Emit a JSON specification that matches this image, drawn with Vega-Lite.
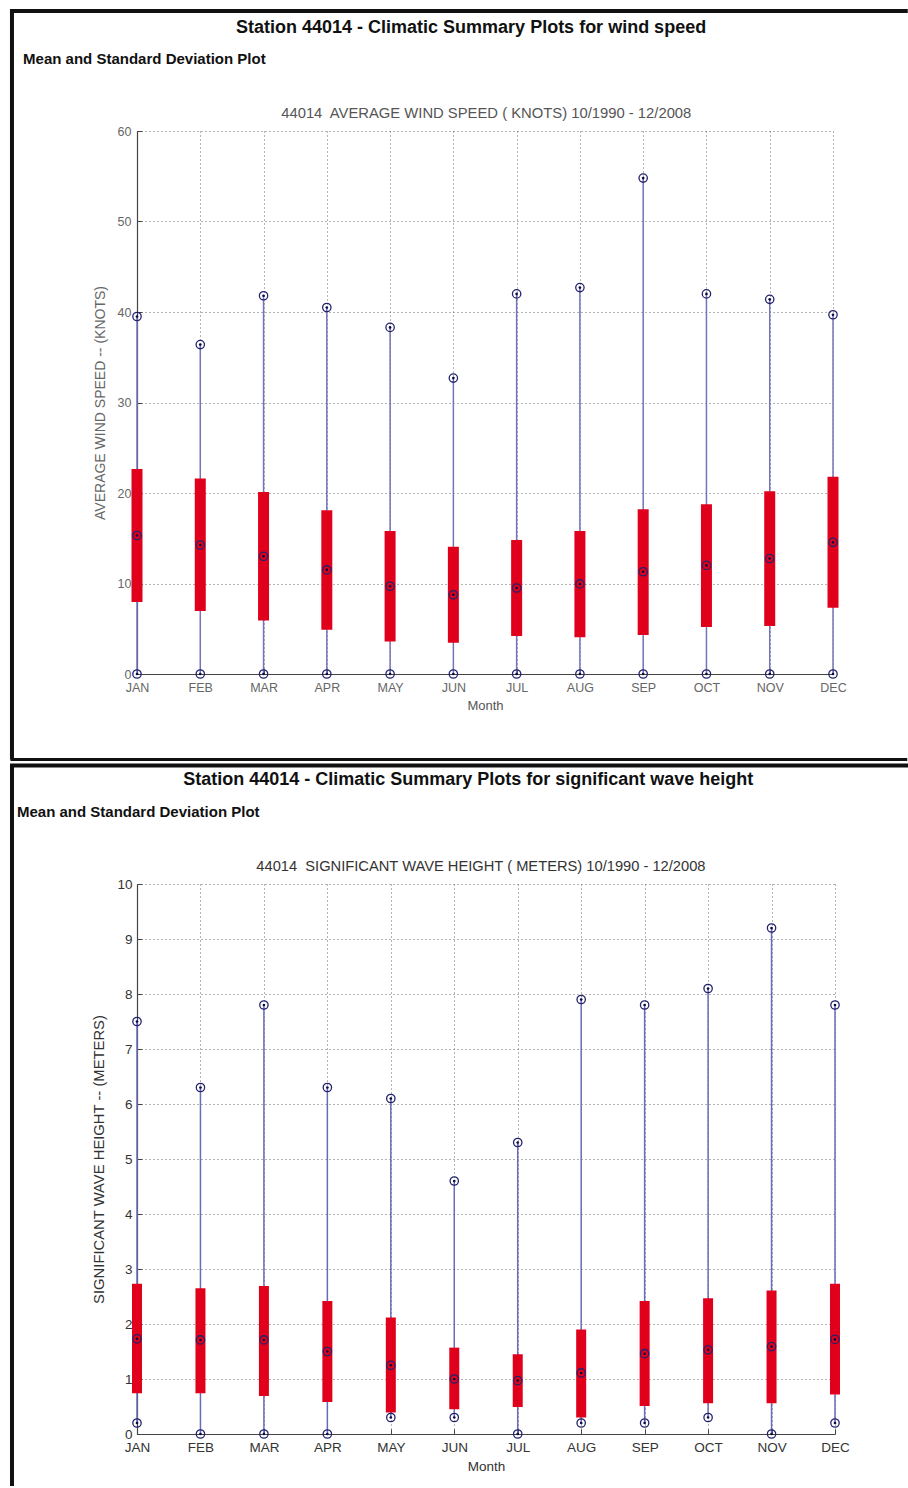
{
  "$schema": "https://vega.github.io/schema/vega-lite/v6.json",
  "padding": {"left": 9, "top": 8, "right": 0, "bottom": 0},
  "background": "white",
  "spacing": 0,
  "config": {
    "view": {"stroke": null},
    "axis": {
      "labelFont": "Liberation Sans",
      "titleFont": "Liberation Sans",
      "titleFontWeight": "normal",
      "gridDash": [1, 3],
      "gridColor": "#666",
      "gridOpacity": 1,
      "gridWidth": 1,
      "domainColor": "#444",
      "domainWidth": 1.2,
      "tickColor": "#444",
      "tickSize": -5,
      "labelOverlap": false,
      "labelFlush": false
    }
  },
  "datasets": {
    "wind": [
      {"month": 1, "mean": 15.3, "lo": 7.96, "hi": 22.65, "min": 0, "max": 39.5},
      {"month": 2, "mean": 14.25, "lo": 6.96, "hi": 21.6, "min": 0, "max": 36.4},
      {"month": 3, "mean": 13.0, "lo": 5.9, "hi": 20.1, "min": 0, "max": 41.8},
      {"month": 4, "mean": 11.5, "lo": 4.9, "hi": 18.1, "min": 0, "max": 40.5},
      {"month": 5, "mean": 9.7, "lo": 3.6, "hi": 15.8, "min": 0, "max": 38.3},
      {"month": 6, "mean": 8.75, "lo": 3.46, "hi": 14.07, "min": 0, "max": 32.7},
      {"month": 7, "mean": 9.5, "lo": 4.2, "hi": 14.8, "min": 0, "max": 42.0},
      {"month": 8, "mean": 9.95, "lo": 4.05, "hi": 15.8, "min": 0, "max": 42.7},
      {"month": 9, "mean": 11.3, "lo": 4.3, "hi": 18.2, "min": 0, "max": 54.8},
      {"month": 10, "mean": 12.0, "lo": 5.2, "hi": 18.75, "min": 0, "max": 42.0},
      {"month": 11, "mean": 12.75, "lo": 5.3, "hi": 20.2, "min": 0, "max": 41.4},
      {"month": 12, "mean": 14.55, "lo": 7.33, "hi": 21.8, "min": 0, "max": 39.7}
    ],
    "wave": [
      {"month": 1, "mean": 1.73, "lo": 0.74, "hi": 2.73, "min": 0.2, "max": 7.5},
      {"month": 2, "mean": 1.71, "lo": 0.74, "hi": 2.65, "min": 0, "max": 6.3},
      {"month": 3, "mean": 1.71, "lo": 0.69, "hi": 2.69, "min": 0, "max": 7.8},
      {"month": 4, "mean": 1.5, "lo": 0.58, "hi": 2.42, "min": 0, "max": 6.3},
      {"month": 5, "mean": 1.25, "lo": 0.39, "hi": 2.12, "min": 0.3, "max": 6.1},
      {"month": 6, "mean": 1.0, "lo": 0.45, "hi": 1.57, "min": 0.3, "max": 4.6},
      {"month": 7, "mean": 0.97, "lo": 0.49, "hi": 1.45, "min": 0, "max": 5.3},
      {"month": 8, "mean": 1.11, "lo": 0.3, "hi": 1.9, "min": 0.2, "max": 7.9},
      {"month": 9, "mean": 1.46, "lo": 0.51, "hi": 2.42, "min": 0.2, "max": 7.8},
      {"month": 10, "mean": 1.53, "lo": 0.56, "hi": 2.47, "min": 0.3, "max": 8.1},
      {"month": 11, "mean": 1.59, "lo": 0.56, "hi": 2.61, "min": 0, "max": 9.2},
      {"month": 12, "mean": 1.72, "lo": 0.72, "hi": 2.73, "min": 0.2, "max": 7.8}
    ]
  },
  "vconcat": [
    {
      "width": 696,
      "height": 543,
      "layer": [
        {
          "data": {"name": "wind"},
          "mark": {"type": "rule", "color": "#7474b8", "strokeWidth": 1.5},
          "encoding": {
            "x": {"field": "month", "type": "quantitative",
              "scale": {"domain": [1, 12], "nice": false, "zero": false},
              "axis": {"values": [1,2,3,4,5,6,7,8,9,10,11,12], "labelExpr": "['JAN','FEB','MAR','APR','MAY','JUN','JUL','AUG','SEP','OCT','NOV','DEC'][datum.value-1]", "title": "Month", "labelFontSize": 12.5, "labelColor": "#666", "labelPadding": 12, "titleFontSize": 13, "titleColor": "#555", "titlePadding": 6}},
            "y": {"field": "min", "type": "quantitative",
              "scale": {"domain": [0, 60], "nice": false},
              "axis": {"values": [0,10,20,30,40,50,60], "title": "AVERAGE WIND SPEED -- (KNOTS)", "labelFontSize": 12.5, "labelColor": "#666", "labelPadding": 11, "titleFontSize": 14, "titleColor": "#666", "titlePadding": 10}},
            "y2": {"field": "max"}
          }
        },
        {
          "data": {"name": "wind"},
          "mark": {"type": "rule", "color": "#e0001b", "strokeWidth": 11, "strokeCap": "butt"},
          "encoding": {
            "x": {"field": "month", "type": "quantitative"},
            "y": {"field": "lo", "type": "quantitative"},
            "y2": {"field": "hi"}
          }
        },
        {
          "data": {"name": "wind"},
          "transform": [{"fold": ["min", "max", "mean"], "as": ["stat", "v"]}],
          "mark": {"type": "point", "shape": "circle", "filled": false, "stroke": "#22226e", "strokeWidth": 1.3, "size": 70, "opacity": 1},
          "encoding": {
            "x": {"field": "month", "type": "quantitative"},
            "y": {"field": "v", "type": "quantitative"}
          }
        },
        {
          "data": {"name": "wind"},
          "transform": [{"fold": ["min", "max", "mean"], "as": ["stat", "v"]}],
          "mark": {"type": "point", "shape": "circle", "filled": true, "color": "#0a0a40", "size": 7, "opacity": 1},
          "encoding": {
            "x": {"field": "month", "type": "quantitative"},
            "y": {"field": "v", "type": "quantitative"}
          }
        },
        {
          "data": {"values": [{}]},
          "mark": {"type": "rule", "color": "#111", "strokeWidth": 4, "strokeCap": "butt"},
          "encoding": {
            "x": {"datum": -0.976, "type": "quantitative"},
            "y": {"datum": 73.26, "type": "quantitative"},
            "y2": {"datum": -9.45}
          }
        },
        {
          "data": {"values": [{}]},
          "mark": {"type": "rule", "color": "#111", "strokeWidth": 4, "strokeCap": "square"},
          "encoding": {
            "x": {"datum": -0.976, "type": "quantitative"},
            "x2": {"datum": 13.15},
            "y": {"datum": 73.26, "type": "quantitative"}
          }
        },
        {
          "data": {"values": [{}]},
          "mark": {"type": "rule", "color": "#111", "strokeWidth": 3, "strokeCap": "square"},
          "encoding": {
            "x": {"datum": -0.976, "type": "quantitative"},
            "x2": {"datum": 13.15},
            "y": {"datum": -9.45, "type": "quantitative"}
          }
        },
        {
          "data": {"values": [{}]},
          "mark": {"type": "text", "text": "Station 44014 - Climatic Summary Plots for wind speed", "font": "Liberation Sans", "fontSize": 18, "fontWeight": "bold", "align": "center", "baseline": "middle", "color": "#111"},
          "encoding": {
            "x": {"datum": 6.28, "type": "quantitative"},
            "y": {"datum": 71.4, "type": "quantitative"}
          }
        },
        {
          "data": {"values": [{}]},
          "mark": {"type": "text", "text": "Mean and Standard Deviation Plot", "font": "Liberation Sans", "fontSize": 15, "fontWeight": "bold", "align": "left", "baseline": "middle", "color": "#111"},
          "encoding": {
            "x": {"datum": -0.80, "type": "quantitative"},
            "y": {"datum": 67.96, "type": "quantitative"}
          }
        },
        {
          "data": {"values": [{}]},
          "mark": {"type": "text", "text": "44014\u00a0 AVERAGE WIND SPEED ( KNOTS) 10/1990 - 12/2008", "font": "Liberation Sans", "fontSize": 14.8, "align": "center", "baseline": "middle", "color": "#555"},
          "encoding": {
            "x": {"datum": 6.52, "type": "quantitative"},
            "y": {"datum": 61.88, "type": "quantitative"}
          }
        }
      ]
    },
    {
      "width": 698,
      "height": 550,
      "layer": [
        {
          "data": {"name": "wave"},
          "mark": {"type": "rule", "color": "#6a6ab8", "strokeWidth": 1.5},
          "encoding": {
            "x": {"field": "month", "type": "quantitative",
              "scale": {"domain": [1, 12], "nice": false, "zero": false},
              "axis": {"values": [1,2,3,4,5,6,7,8,9,10,11,12], "labelExpr": "['JAN','FEB','MAR','APR','MAY','JUN','JUL','AUG','SEP','OCT','NOV','DEC'][datum.value-1]", "title": "Month", "labelFontSize": 13.5, "labelColor": "#333", "labelPadding": 11, "titleFontSize": 13.5, "titleColor": "#333", "titlePadding": 6}},
            "y": {"field": "min", "type": "quantitative",
              "scale": {"domain": [0, 10], "nice": false},
              "axis": {"values": [0,1,2,3,4,5,6,7,8,9,10], "title": "SIGNIFICANT WAVE HEIGHT -- (METERS)", "labelFontSize": 13.5, "labelColor": "#333", "labelPadding": 10, "titleFontSize": 14.8, "titleColor": "#333", "titlePadding": 10}},
            "y2": {"field": "max"}
          }
        },
        {
          "data": {"name": "wave"},
          "mark": {"type": "rule", "color": "#e0001b", "strokeWidth": 10, "strokeCap": "butt"},
          "encoding": {
            "x": {"field": "month", "type": "quantitative"},
            "y": {"field": "lo", "type": "quantitative"},
            "y2": {"field": "hi"}
          }
        },
        {
          "data": {"name": "wave"},
          "transform": [{"fold": ["min", "max", "mean"], "as": ["stat", "v"]}],
          "mark": {"type": "point", "shape": "circle", "filled": false, "stroke": "#22226e", "strokeWidth": 1.3, "size": 70, "opacity": 1},
          "encoding": {
            "x": {"field": "month", "type": "quantitative"},
            "y": {"field": "v", "type": "quantitative"}
          }
        },
        {
          "data": {"name": "wave"},
          "transform": [{"fold": ["min", "max", "mean"], "as": ["stat", "v"]}],
          "mark": {"type": "point", "shape": "circle", "filled": true, "color": "#0a0a40", "size": 7, "opacity": 1},
          "encoding": {
            "x": {"field": "month", "type": "quantitative"},
            "y": {"field": "v", "type": "quantitative"}
          }
        },
        {
          "data": {"values": [{}]},
          "mark": {"type": "rule", "color": "#111", "strokeWidth": 4, "strokeCap": "butt"},
          "encoding": {
            "x": {"datum": -0.970, "type": "quantitative"},
            "y": {"datum": 12.155, "type": "quantitative"},
            "y2": {"datum": -0.945}
          }
        },
        {
          "data": {"values": [{}]},
          "mark": {"type": "rule", "color": "#111", "strokeWidth": 4, "strokeCap": "square"},
          "encoding": {
            "x": {"datum": -0.970, "type": "quantitative"},
            "x2": {"datum": 13.12},
            "y": {"datum": 12.155, "type": "quantitative"}
          }
        },
        {
          "data": {"values": [{}]},
          "mark": {"type": "text", "text": "Station 44014 - Climatic Summary Plots for significant wave height", "font": "Liberation Sans", "fontSize": 18, "fontWeight": "bold", "align": "center", "baseline": "middle", "color": "#111"},
          "encoding": {
            "x": {"datum": 6.22, "type": "quantitative"},
            "y": {"datum": 11.89, "type": "quantitative"}
          }
        },
        {
          "data": {"values": [{}]},
          "mark": {"type": "text", "text": "Mean and Standard Deviation Plot", "font": "Liberation Sans", "fontSize": 15, "fontWeight": "bold", "align": "left", "baseline": "middle", "color": "#111"},
          "encoding": {
            "x": {"datum": -0.891, "type": "quantitative"},
            "y": {"datum": 11.31, "type": "quantitative"}
          }
        },
        {
          "data": {"values": [{}]},
          "mark": {"type": "text", "text": "44014\u00a0 SIGNIFICANT WAVE HEIGHT ( METERS) 10/1990 - 12/2008", "font": "Liberation Sans", "fontSize": 14.7, "align": "center", "baseline": "middle", "color": "#333"},
          "encoding": {
            "x": {"datum": 6.42, "type": "quantitative"},
            "y": {"datum": 10.31, "type": "quantitative"}
          }
        }
      ]
    }
  ]
}
